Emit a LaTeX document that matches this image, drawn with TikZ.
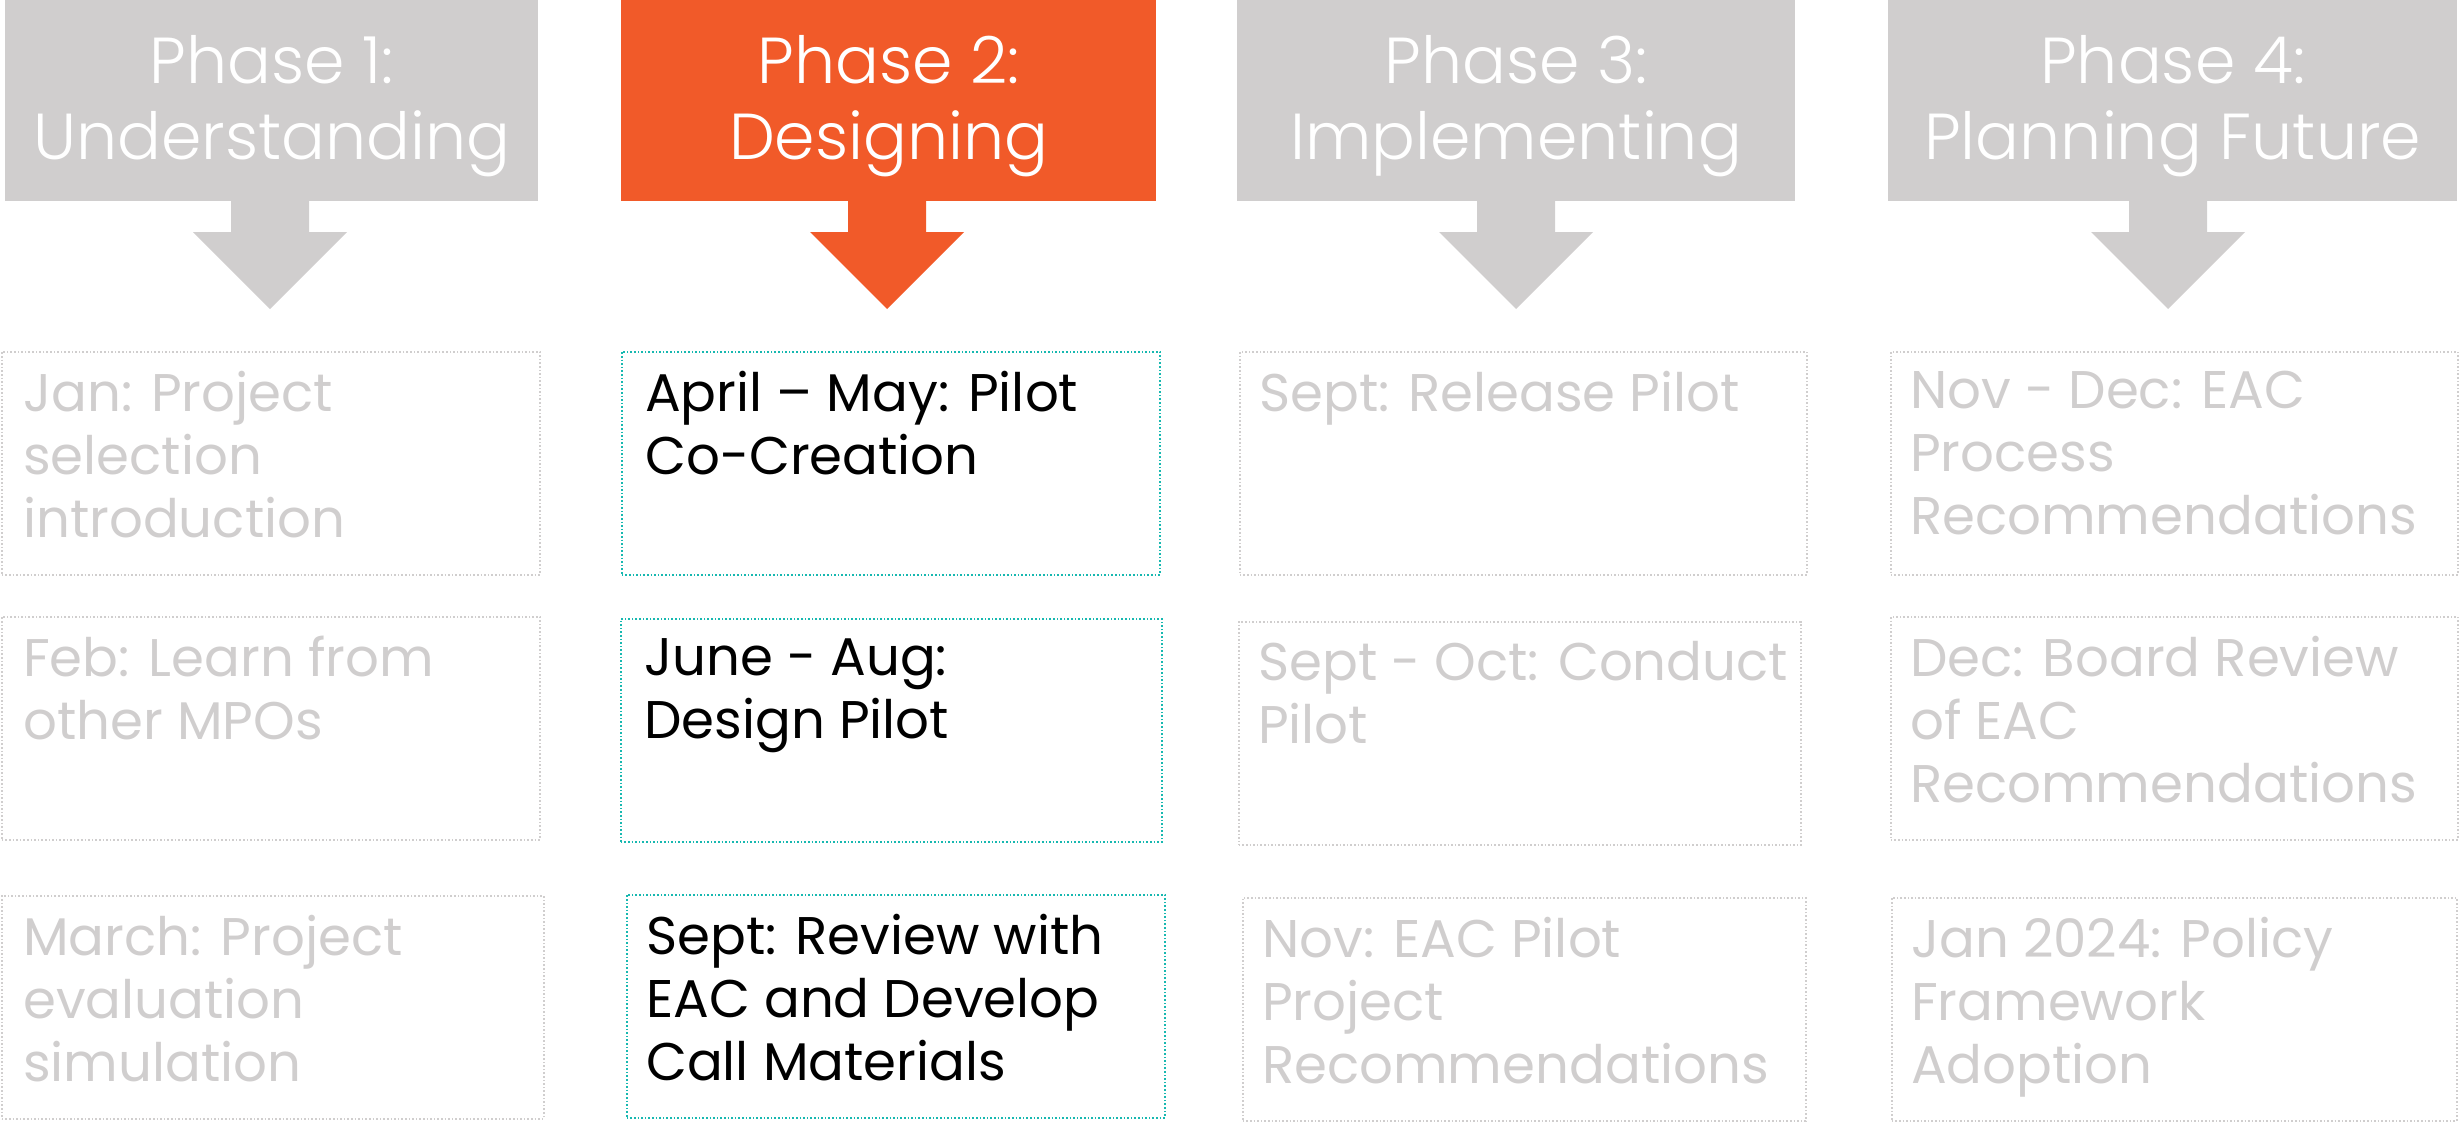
\documentclass[tikz,border=0pt]{standalone}
\usepackage{fontspec}
\setmainfont{Poppins}
\newfontfamily\hdfont{Poppins Light}
\definecolor{phgray}{HTML}{D0CECE}
\definecolor{phorange}{HTML}{F15A29}
\definecolor{phteal}{HTML}{17B8B0}
\begin{document}
\begin{tikzpicture}[x=1pt,y=-1pt,
  header/.style={fill=phgray, draw=none, inner sep=0pt, anchor=north west},
  active/.style={fill=phorange},
  headtext/.style={inner sep=0pt, text=white, align=center, font=\hdfont\fontsize{65}{76}\selectfont},
  cell/.style={draw=phgray, line width=1.6pt, dotted, inner sep=0pt, anchor=north west},
  activecell/.style={draw=phteal},
  celltext/.style={inner sep=0pt, anchor=north west, align=left, text=phgray,
     font=\fontsize{53}{63}\selectfont},
  activetext/.style={text=black}]
\useasboundingbox (0,0) rectangle (2459,1125);
% headers
\node[header, minimum width=533, minimum height=201] (h1) at (5,0) {};
\node[header, active, minimum width=535, minimum height=201] (h2) at (621,0) {};
\node[header, minimum width=558, minimum height=201] (h3) at (1237,0) {};
\node[header, minimum width=569, minimum height=201] (h4) at (1888,0) {};
\node[headtext] (l1) at ([yshift=-5pt]h1.center) {Phase 1:\\Understanding};
\node[headtext] (l2) at ([yshift=-5pt]h2.center) {Phase 2:\\Designing};
\node[headtext] (l3) at ([yshift=-5pt]h3.center) {Phase 3:\\Implementing};
\node[headtext] (l4) at ([yshift=-5pt]h4.center) {Phase 4:\\Planning Future};
% arrows
\foreach \c/\col in {270/phgray, 887/phorange, 1516/phgray, 2168/phgray}{
  \fill[\col] (\c-39,200) -- (\c+39,200) -- (\c+39,232) -- (\c+77,232) -- (\c,309)
     -- (\c-77,232) -- (\c-39,232) -- cycle;
}
% row 1
\node[cell, minimum width=538, minimum height=223] (c11) at (1,351) {};
\node[cell, activecell, minimum width=538, minimum height=223] (c21) at (621,351) {};
\node[cell, minimum width=567, minimum height=223] (c31) at (1239,351) {};
\node[cell, minimum width=567, minimum height=223] (c41) at (1890,351) {};
% row 2
\node[cell, minimum width=538, minimum height=223] (c12) at (1,616) {};
\node[cell, activecell, minimum width=541, minimum height=223] (c22) at (620,618) {};
\node[cell, minimum width=562, minimum height=223] (c32) at (1238,621) {};
\node[cell, minimum width=567, minimum height=223] (c42) at (1890,616) {};
% row 3
\node[cell, minimum width=542, minimum height=223] (c13) at (1,895) {};
\node[cell, activecell, minimum width=538, minimum height=223] (c23) at (626,894) {};
\node[cell, minimum width=563, minimum height=223] (c33) at (1242,897) {};
\node[cell, minimum width=565, minimum height=223] (c43) at (1891,897) {};
% texts
\node[celltext] (t11) at ([shift={(22,20)}]c11.north west) {Jan: Project\\selection\\introduction};
\node[celltext, activetext] (t21) at ([shift={(24,20)}]c21.north west) {April -- May: Pilot\\Co-Creation};
\node[celltext] (t31) at ([shift={(20,20)}]c31.north west) {Sept: Release Pilot};
\node[celltext] (t41) at ([shift={(20,20)}]c41.north west) {Nov - Dec: EAC\\Process\\Recommendations};
\node[celltext] (t12) at ([shift={(22,20)}]c12.north west) {Feb: Learn from\\other MPOs};
\node[celltext, activetext] (t22) at ([shift={(24,20)}]c22.north west) {June - Aug:\\Design Pilot};
\node[celltext] (t32) at ([shift={(20,20)}]c32.north west) {Sept - Oct: Conduct\\Pilot};
\node[celltext] (t42) at ([shift={(20,20)}]c42.north west) {Dec: Board Review\\of EAC\\Recommendations};
\node[celltext] (t13) at ([shift={(22,20)}]c13.north west) {March: Project\\evaluation\\simulation};
\node[celltext, activetext] (t23) at ([shift={(20,20)}]c23.north west) {Sept: Review with\\EAC and Develop\\Call Materials};
\node[celltext] (t33) at ([shift={(20,20)}]c33.north west) {Nov: EAC Pilot\\Project\\Recommendations};
\node[celltext] (t43) at ([shift={(20,20)}]c43.north west) {Jan 2024: Policy\\Framework\\Adoption};
\end{tikzpicture}
\end{document}
